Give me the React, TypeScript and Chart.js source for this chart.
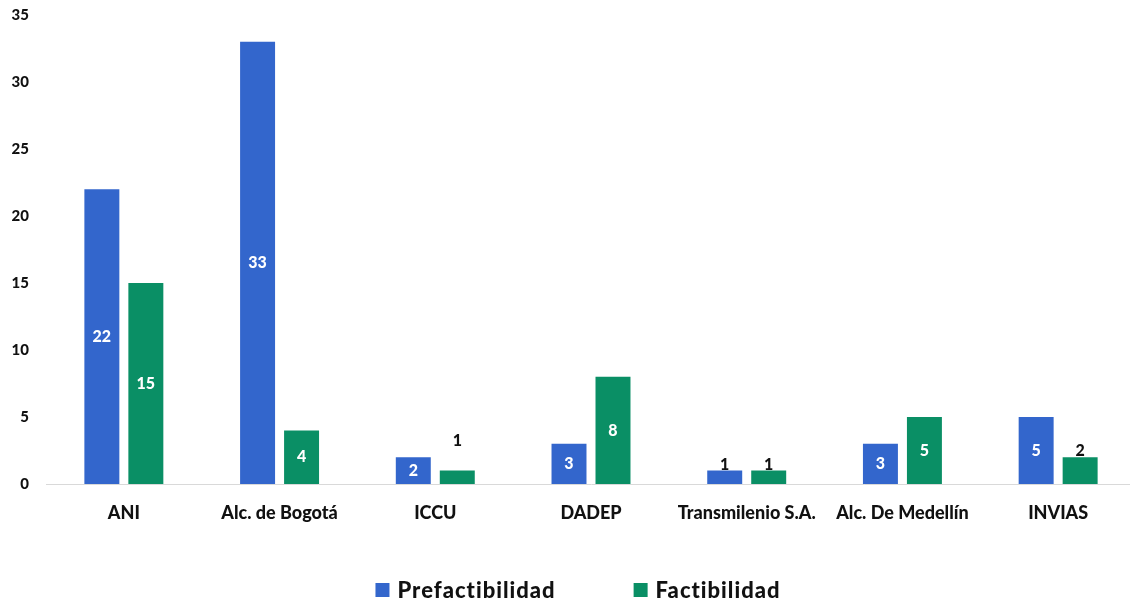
import React, { useEffect, useRef } from "react";
import { Chart, registerables } from "chart.js";

Chart.register(...registerables);

const categories = [
  "ANI",
  "Alc. de Bogotá",
  "ICCU",
  "DADEP",
  "Transmilenio S.A.",
  "Alc. De Medellín",
  "INVIAS",
];
const prefactibilidad = [22, 33, 2, 3, 1, 3, 5];
const factibilidad = [15, 4, 1, 8, 1, 5, 2];
const seriesNames = ["Prefactibilidad", "Factibilidad"];
const seriesColors = ["#3366CC", "#0A8F65"];
const yMin = 0;
const yMax = 35;
const yStep = 5;

const FONT = "Lato, 'Open Sans', sans-serif";
const WEIGHT = "900";

const barLabelPlugin = {
  id: "barLabels",
  afterDatasetsDraw(chart: any, _args: any, opts: any) {
    const ctx = chart.ctx;
    ctx.save();
    ctx.font = `${WEIGHT} 16px ${FONT}`;
    ctx.textAlign = "center";
    ctx.textBaseline = "middle";
    chart.data.datasets.forEach((ds: any, di: number) => {
      const meta = chart.getDatasetMeta(di);
      meta.data.forEach((bar: any, i: number) => {
        const v = ds.data[i];
        const outside = (opts.outside?.[di] || []).includes(i);
        const lift = (opts.lift?.[di] || {})[i] || 0;
        const { x, y, base } = bar.getProps(["x", "y", "base"], true);
        if (outside) {
          ctx.fillStyle = "#111111";
          ctx.fillText(String(v), x, y - 6 - lift);
        } else {
          ctx.fillStyle = "#ffffff";
          ctx.fillText(String(v), x, (y + base) / 2);
        }
      });
    });
    ctx.restore();
  },
};

const customLegendPlugin = {
  id: "customLegend",
  afterDraw(chart: any, _args: any, opts: any) {
    const ctx = chart.ctx;
    ctx.save();
    ctx.font = `${WEIGHT} 22px ${FONT}`;
    try {
      (ctx as any).letterSpacing = "1px";
    } catch (e) {}
    ctx.textBaseline = "middle";
    ctx.textAlign = "left";
    const box = 14;
    const gapText = 8;
    const gapItem = 78;
    const items = chart.data.datasets.map((ds: any) => ({
      label: ds.label,
      color: ds.backgroundColor,
      w: ctx.measureText(ds.label).width,
    }));
    const total =
      items.reduce((s: number, it: any) => s + box + gapText + it.w, 0) +
      gapItem * (items.length - 1);
    const cx = (chart.chartArea.left + chart.chartArea.right) / 2 + (opts.shift || 0);
    let x = cx - total / 2;
    const y = chart.height - (opts.bottom || 13);
    items.forEach((it: any) => {
      ctx.fillStyle = it.color;
      ctx.fillRect(x, y - box / 2, box, box);
      x += box + gapText;
      ctx.fillStyle = "#111111";
      ctx.fillText(it.label, x, y + 1);
      x += it.w + gapItem;
    });
    ctx.restore();
  },
};

export default function App() {
  const canvasRef = useRef<HTMLCanvasElement | null>(null);

  useEffect(() => {
    if (!canvasRef.current) return;
    const chart = new Chart(canvasRef.current, {
      type: "bar",
      data: {
        labels: categories,
        datasets: [
          {
            label: seriesNames[0],
            data: prefactibilidad,
            backgroundColor: seriesColors[0],
            categoryPercentage: 0.565,
            barPercentage: 0.795,
          },
          {
            label: seriesNames[1],
            data: factibilidad,
            backgroundColor: seriesColors[1],
            categoryPercentage: 0.565,
            barPercentage: 0.795,
          },
        ],
      },
      options: {
        animation: false,
        responsive: true,
        maintainAspectRatio: false,
        layout: { padding: { top: 15, right: 4, left: 0, bottom: 79 } },
        plugins: {
          legend: { display: false },
          tooltip: { enabled: false },
          barLabels: {
            outside: { 0: [4], 1: [2, 4, 6] },
            lift: { 1: { 2: 24 } },
          },
          customLegend: { bottom: 13, shift: -13 },
        } as any,
        scales: {
          x: {
            grid: { display: false, drawTicks: false },
            border: { display: true, color: "#D9D9D9", width: 1 },
            ticks: {
              color: "#111111",
              font: { family: FONT, size: 18, weight: WEIGHT as any },
              padding: 18,
              maxRotation: 0,
              autoSkip: false,
            },
            afterFit: (s: any) => {
              s.height = 40;
            },
          },
          y: {
            min: yMin,
            max: yMax,
            grid: { display: false, drawTicks: false },
            border: { display: false },
            ticks: {
              stepSize: yStep,
              color: "#111111",
              font: { family: FONT, size: 15, weight: WEIGHT as any },
              padding: 17,
            },
            afterFit: (s: any) => {
              s.width = 46;
              s.paddingTop = 0;
              s.paddingBottom = 0;
            },
          },
        },
      },
      plugins: [barLabelPlugin, customLegendPlugin],
    });
    return () => chart.destroy();
  }, []);

  return (
    <div
      style={{
        position: "fixed",
        left: 0,
        top: 0,
        width: 1130,
        height: 603,
        overflow: "hidden",
        background: "#ffffff",
      }}
    >
      <div style={{ position: "relative", width: 1140, height: 603 }}>
        <canvas ref={canvasRef} />
      </div>
    </div>
  );
}
